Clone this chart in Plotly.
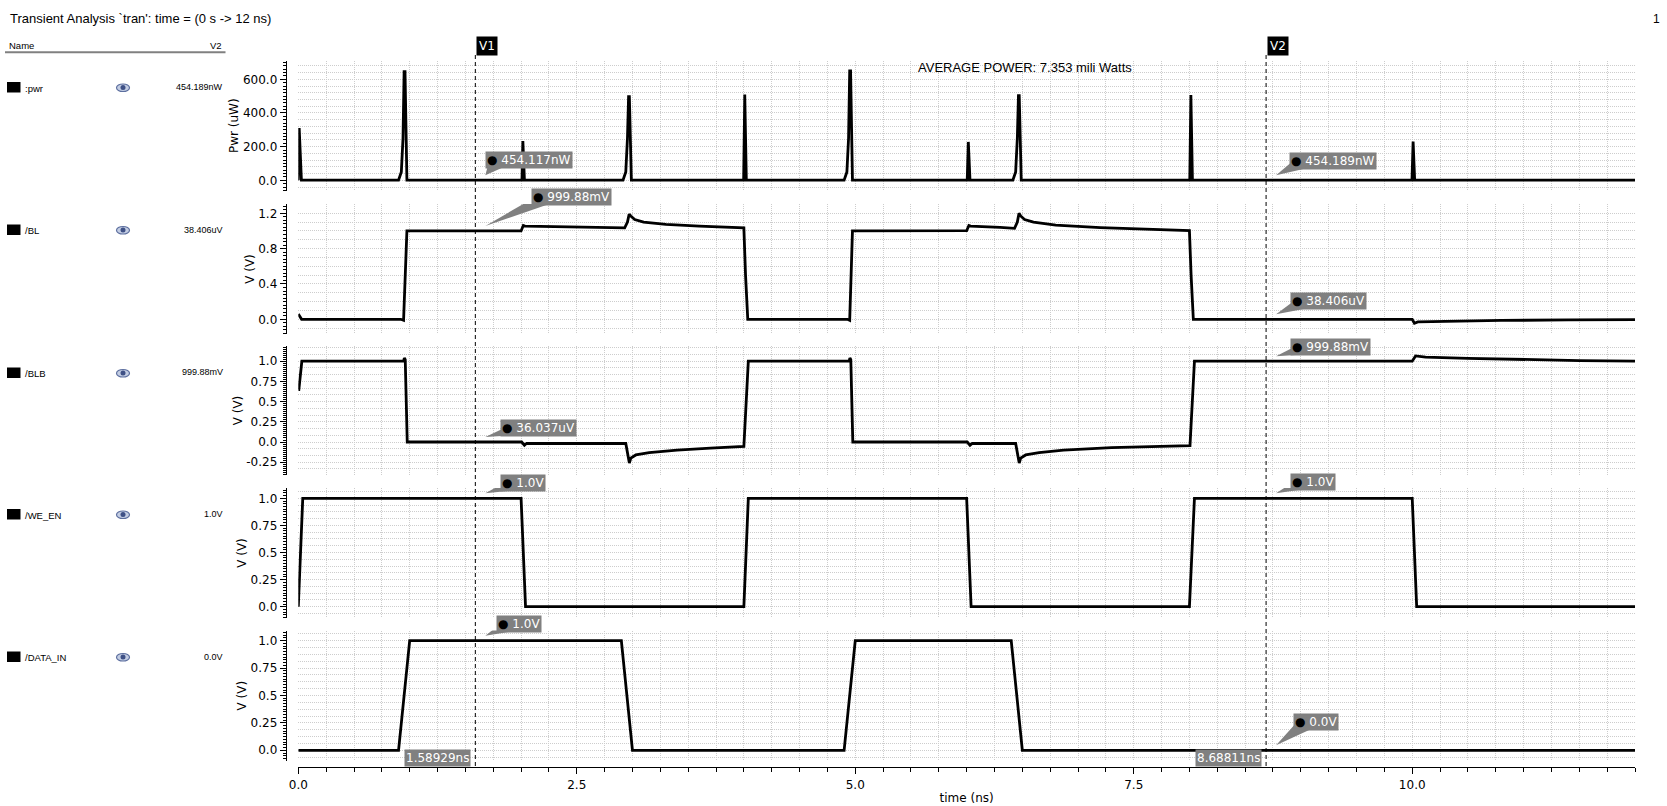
import plotly.graph_objects as go

W, H = 1667, 806

# ---------------- data ----------------
time_pwr_ns = [0.000, 0.008, 0.028,
               0.900, 0.925, 0.940, 0.950, 0.958, 0.975,
               2.008, 2.016, 2.030,
               2.915, 2.940, 2.955, 2.965, 2.972, 2.990,
               3.998, 4.008, 4.022,
               4.900, 4.925, 4.940, 4.950, 4.958, 4.975,
               6.005, 6.015, 6.030,
               6.415, 6.440, 6.455, 6.465, 6.472, 6.490,
               8.003, 8.013, 8.027,
               9.998, 10.008, 10.022,
               12.000]
pwr_uW = [0.45, 310, 0.45,
          0.45, 50, 250, 645, 645, 0.45,
          0.45, 233, 0.45,
          0.45, 50, 250, 497, 497, 0.45,
          0.45, 510, 0.45,
          0.45, 50, 250, 650, 650, 0.45,
          0.45, 228, 0.45,
          0.45, 50, 250, 503, 503, 0.45,
          0.45, 507, 0.45,
          0.45, 230, 0.45,
          0.45]

time_bl_ns = [0.000, 0.030, 0.920, 0.945, 0.975,
              2.000, 2.020, 2.035, 2.300, 2.930, 2.955, 2.970, 2.985, 3.020, 3.100, 3.300, 3.600, 4.000, 4.015, 4.035,
              4.930, 4.950, 4.975,
              6.000, 6.020, 6.035, 6.300, 6.430, 6.455, 6.470, 6.485, 6.520, 6.600, 6.800, 7.200, 7.600, 8.000, 8.015, 8.035,
              10.000, 10.020, 10.050, 10.300, 10.800, 11.400, 12.000]
bl_V = [0.060, 0.000, 0.000, -0.012, 1.000,
        1.000, 1.062, 1.055, 1.050, 1.035, 1.100, 1.190, 1.170, 1.130, 1.100, 1.075, 1.055, 1.035, 0.500, 0.000,
        0.000, -0.012, 1.000,
        1.003, 1.062, 1.055, 1.040, 1.030, 1.100, 1.200, 1.170, 1.130, 1.100, 1.065, 1.037, 1.020, 1.003, 0.500, 0.000,
        0.000, -0.045, -0.030, -0.022, -0.013, -0.007, -0.003]

time_blb_ns = [0.000, 0.005, 0.032, 0.945, 0.952, 0.960, 0.978,
               2.005, 2.030, 2.050, 2.940, 2.960, 2.972, 2.985, 3.030, 3.150, 3.400, 3.700, 4.000, 4.040,
               4.945, 4.952, 4.960, 4.978,
               6.005, 6.030, 6.050, 6.440, 6.460, 6.472, 6.485, 6.530, 6.650, 6.870, 7.300, 7.700, 8.005, 8.045,
               10.000, 10.030, 10.120, 10.500, 11.000, 11.500, 12.000]
blb_V = [0.650, 0.650, 1.000, 1.000, 1.040, 1.020, 0.000,
         0.000, -0.040, -0.016, -0.018, -0.150, -0.260, -0.200, -0.160, -0.130, -0.100, -0.075, -0.055, 1.000,
         1.000, 1.040, 1.020, 0.000,
         0.000, -0.040, -0.016, -0.018, -0.150, -0.260, -0.200, -0.160, -0.130, -0.100, -0.070, -0.055, -0.045, 1.000,
         1.000, 1.065, 1.050, 1.035, 1.020, 1.008, 1.000]

time_we_ns = [0.0, 0.04, 2.0, 2.04, 4.0, 4.04, 6.0, 6.04, 8.0, 8.045, 10.0, 10.04, 12.0]
we_en_V = [0, 1, 1, 0, 0, 1, 1, 0, 0, 1, 1, 0, 0]

time_din_ns = [0.0, 0.9, 1.0, 2.9, 3.0, 4.9, 5.0, 6.4, 6.5, 12.0]
data_in_V = [0, 0, 1, 1, 0, 0, 1, 1, 0, 0]

signal_names = [":pwr", "/BL", "/BLB", "/WE_EN", "/DATA_IN"]
signal_v2_text = ["454.189nW", "38.406uV", "999.88mV", "1.0V", "0.0V"]
y_titles = ["Pwr (uW)", "V (V)", "V (V)", "V (V)", "V (V)"]

marker_names = ["V1", "V2"]
marker_times_ns = [1.58929, 8.68811]
marker_time_text = ["1.58929ns", "8.68811ns"]
marker_values = [[0.454117, 0.99988, 36.037e-6, 1.0, 1.0],
                 [0.454189, 38.406e-6, 0.99988, 1.0, 0.0]]
marker_value_text = [["454.117nW", "999.88mV", "36.037uV", "1.0V", "1.0V"],
                     ["454.189nW", "38.406uV", "999.88mV", "1.0V", "0.0V"]]

y_tick_vals = [[0, 200, 400, 600], [0, 0.4, 0.8, 1.2],
               [-0.25, 0, 0.25, 0.5, 0.75, 1.0],
               [0, 0.25, 0.5, 0.75, 1.0], [0, 0.25, 0.5, 0.75, 1.0]]
y_tick_text = [["0.0", "200.0", "400.0", "600.0"], ["0.0", "0.4", "0.8", "1.2"],
               ["-0.25", "0.0", "0.25", "0.5", "0.75", "1.0"],
               ["0.0", "0.25", "0.5", "0.75", "1.0"], ["0.0", "0.25", "0.5", "0.75", "1.0"]]
x_tick_vals = [0, 2.5, 5.0, 7.5, 10.0]
x_tick_text = ["0.0", "2.5", "5.0", "7.5", "10.0"]

avg_power_text = "AVERAGE POWER: 7.353 mili Watts"
title_text = "Transient Analysis `tran': time = (0 s -> 12 ns)"

# ---------------- layout geometry (pixels) ----------------
panel_top = [60.7, 204.0, 346.0, 488.0, 630.5]
panel_bot = [190.7, 334.0, 475.0, 618.0, 760.7]
y_ranges = [[-61.8, 710.5], [-0.1664, 1.3053], [-0.408, 1.188], [-0.104, 1.095], [-0.095, 1.093]]
y_minor_tick = [20, 0.04, 0.025, 0.025, 0.025]
y_grid_step = [40, 0.1, 0.25 / 3, 0.0625, 0.0625]
row_y = [87.5, 230.0, 373.0, 514.5, 657.0]
plot_left, plot_right = 298.3, 1635.0
yaxis_x = 285.7
xaxis_y = 767.3

FONT_T = "DejaVu Sans"
FONT_L = "Liberation Sans"
GRID_C = "#cdcdcd"
GRID_D = "1px,1px"
BALLOON = "#808080"


def px(x):
    return x / W


def py(y):
    return 1 - y / H


series_t = [time_pwr_ns, time_bl_ns, time_blb_ns, time_we_ns, time_din_ns]
series_v = [pwr_uW, bl_V, blb_V, we_en_V, data_in_V]

fig = go.Figure()
layout = dict(
    width=W, height=H, margin=dict(l=0, r=0, t=0, b=0),
    template="none", paper_bgcolor="white", plot_bgcolor="white",
    showlegend=False, font=dict(family=FONT_T, size=12, color="black"),
)

for i in range(5):
    n = "" if i == 0 else str(i + 1)
    xr, yr = "x" + n, "y" + n
    fig.add_trace(go.Scatter(x=series_t[i], y=series_v[i], mode="lines",
                             line=dict(color="black", width=2.8),
                             xaxis=xr, yaxis=yr, name=signal_names[i],
                             hoverinfo="x+y"))
    # overlay axis carrying the dense dotted horizontal grid
    ov = str(i + 6)
    fig.add_trace(go.Scatter(x=[None], y=[None], mode="lines", xaxis=xr, yaxis="y" + ov,
                             showlegend=False, hoverinfo="skip"))

    xa = dict(domain=[px(plot_left), px(plot_right)], range=[0, 12],
              showgrid=True, gridcolor=GRID_C, griddash=GRID_D, gridwidth=1,
              zeroline=False, automargin=False)
    if i < 4:
        xa.update(anchor=yr, tickmode="linear", tick0=0, dtick=0.25,
                  showticklabels=False, ticks="", showline=False)
    else:
        xa.update(anchor="free", position=py(xaxis_y), tickmode="array",
                  tickvals=x_tick_vals, ticktext=x_tick_text,
                  ticks="outside", ticklen=6, tickcolor="black", tickwidth=1,
                  showline=True, linecolor="black", linewidth=1,
                  tickfont=dict(family=FONT_T, size=12, color="black"),
                  minor=dict(tickmode="linear", tick0=0, dtick=0.25, ticks="outside",
                             ticklen=4, tickcolor="black", showgrid=True,
                             gridcolor=GRID_C, griddash=GRID_D),
                  title=dict(text="time (ns)", font=dict(family=FONT_T, size=12), standoff=2))
    layout["xaxis" + n] = xa

    ya = dict(domain=[py(panel_bot[i]), py(panel_top[i])], range=y_ranges[i],
              anchor="free", position=px(yaxis_x), automargin=False,
              tickmode="array", tickvals=y_tick_vals[i], ticktext=y_tick_text[i],
              ticks="outside", ticklen=6, tickcolor="black", tickwidth=1,
              showline=True, linecolor="black", linewidth=1, zeroline=False,
              showgrid=True, gridcolor=GRID_C, griddash=GRID_D, gridwidth=1,
              tickfont=dict(family=FONT_T, size=12, color="black"),
              minor=dict(tickmode="linear", tick0=0, dtick=y_minor_tick[i], ticks="outside",
                         ticklen=3, tickcolor="black", showgrid=False),
              title=dict(text=y_titles[i], font=dict(family=FONT_T, size=12), standoff=0))
    layout["yaxis" + n] = ya
    layout["yaxis" + ov] = dict(overlaying=yr, anchor=xr, range=y_ranges[i],
                                tickmode="linear", tick0=0, dtick=y_grid_step[i],
                                showticklabels=False, ticks="", showline=False,
                                zeroline=False, showgrid=True, gridcolor=GRID_C,
                                griddash=GRID_D, gridwidth=1, automargin=False)

fig.update_layout(**layout)

shapes = []
annotations = []

# marker (cursor) lines and labels
for m in range(2):
    t = marker_times_ns[m]
    shapes.append(dict(type="line", xref="x5", yref="paper", x0=t, x1=t,
                       y0=py(766), y1=py(54), line=dict(color="black", width=1, dash="4px,3px")))
    annotations.append(dict(xref="x5", yref="paper", x=t, y=py(46), xanchor="left",
                            yanchor="middle", xshift=0.5, text=marker_names[m], showarrow=False,
                            bgcolor="black", borderpad=2,
                            font=dict(family=FONT_T, size=12, color="white")))
    annotations.append(dict(xref="x5", yref="paper", x=t, y=py(758), xanchor="right",
                            yanchor="middle", xshift=-4, text=marker_time_text[m], showarrow=False,
                            bgcolor=BALLOON, borderpad=1,
                            font=dict(family=FONT_T, size=12, color="white")))

# balloons: left / bottom offsets of the box from the data point (pixels, up positive)
balloon_left = [[10, 56, 25, 25, 21], [22.5, 23.5, 23.5, 23.5, 26.7]]
balloon_bottom = [[11, 25, 5, 6.5, 7.7], [10, 9, 5, 7.5, 19]]
for m in range(2):
    for i in range(5):
        n = "" if i == 0 else str(i + 1)
        t = marker_times_ns[m]
        v = marker_values[m][i]
        L = balloon_left[m][i]
        B = balloon_bottom[m][i]
        shapes.append(dict(type="path", xref="x" + n, yref="y" + n,
                           xsizemode="pixel", ysizemode="pixel", xanchor=t, yanchor=v,
                           path=f"M 10,5 L {L + 4},{B + 9} L {L + 18},{B + 2} Z",
                           fillcolor=BALLOON, line=dict(width=0)))
        annotations.append(dict(xref="x" + n, yref="y" + n, x=t, y=v, xanchor="left",
                                yanchor="bottom", xshift=L, yshift=B,
                                text="<span style='color:black'>\u25cf</span> " + marker_value_text[m][i],
                                showarrow=False, bgcolor=BALLOON, borderpad=1,
                                font=dict(family=FONT_T, size=12, color="white")))

# header texts
annotations.append(dict(xref="paper", yref="paper", x=px(7.7), y=py(18.5), xanchor="left",
                        yanchor="middle", text=title_text, showarrow=False,
                        font=dict(family=FONT_L, size=13, color="black")))
annotations.append(dict(xref="paper", yref="paper", x=px(1662), y=py(18.5), xanchor="right",
                        yanchor="middle", text="1", showarrow=False,
                        font=dict(family=FONT_L, size=12, color="black")))
annotations.append(dict(xref="paper", yref="paper", x=px(1025), y=py(67.7), xanchor="center",
                        yanchor="middle", text=avg_power_text, showarrow=False,
                        font=dict(family=FONT_L, size=13, color="black")))

# left name panel
annotations.append(dict(xref="paper", yref="paper", x=px(7), y=py(46), xanchor="left",
                        yanchor="middle", text="Name", showarrow=False,
                        font=dict(family=FONT_L, size=9.5, color="black")))
annotations.append(dict(xref="paper", yref="paper", x=px(224), y=py(46), xanchor="right",
                        yanchor="middle", text="V2", showarrow=False,
                        font=dict(family=FONT_L, size=9.5, color="black")))
shapes.append(dict(type="line", xref="paper", yref="paper", x0=px(5), x1=px(225.5),
                   y0=py(52.3), y1=py(52.3), line=dict(color="#808080", width=2)))
for i in range(5):
    ry = row_y[i]
    shapes.append(dict(type="rect", xref="paper", yref="paper", x0=px(7), x1=px(20.5),
                       y0=py(ry + 5), y1=py(ry - 5.5), fillcolor="black", line=dict(width=0)))
    annotations.append(dict(xref="paper", yref="paper", x=px(22.5), y=py(ry + 0.5), xanchor="left",
                            yanchor="middle", text=signal_names[i], showarrow=False,
                            font=dict(family=FONT_L, size=9.5, color="black")))
    annotations.append(dict(xref="paper", yref="paper", x=px(225), y=py(ry - 0.5), xanchor="right",
                            yanchor="middle", text=signal_v2_text[i], showarrow=False,
                            font=dict(family=FONT_L, size=9, color="black")))
    # eye icon
    shapes.append(dict(type="circle", xref="paper", yref="paper", x0=px(116.5), x1=px(129.5),
                       y0=py(ry + 4), y1=py(ry - 3.5), fillcolor="#c3cde3",
                       line=dict(color="#5d6f9f", width=1.2)))
    shapes.append(dict(type="circle", xref="paper", yref="paper", x0=px(120.5), x1=px(125.5),
                       y0=py(ry + 2.5), y1=py(ry - 2.5), fillcolor="#3f5186",
                       line=dict(width=0)))

fig.update_layout(shapes=shapes, annotations=annotations)
fig.write_html("out.html", config={"displayModeBar": False})
